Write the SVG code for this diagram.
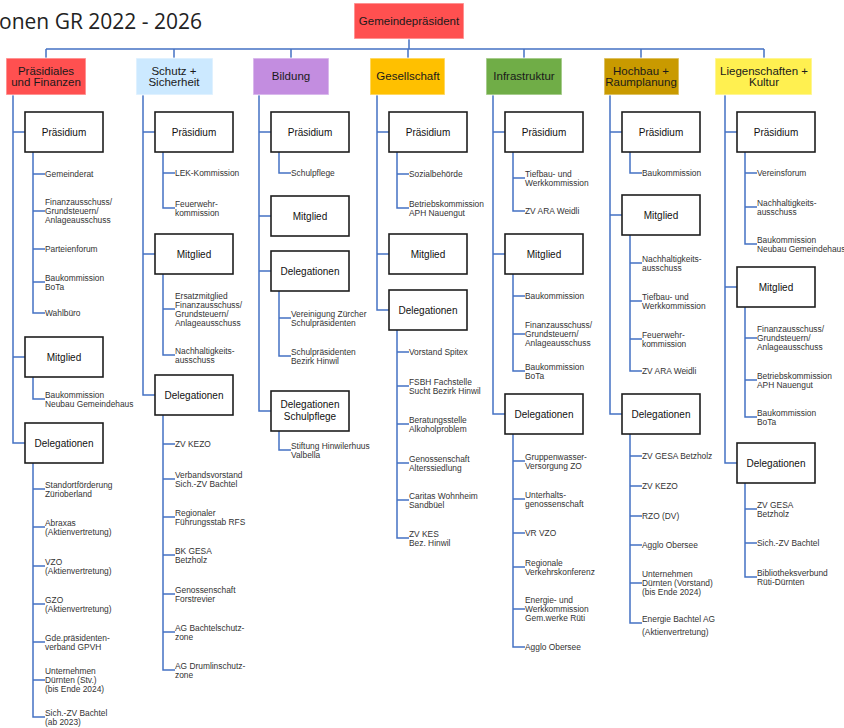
<svg xmlns="http://www.w3.org/2000/svg" width="844" height="728" viewBox="0 0 844 728">
<style>
.c{fill:none;stroke:#4472c4;stroke-width:1.5}
.l2{stroke:#ffffff;stroke-opacity:.5;stroke-width:1.5}
.sb{fill:#fff;stroke:#1e1e1e;stroke-width:1.6}
.bt{font-family:"Liberation Sans",Arial,sans-serif;font-size:10px;fill:#111;text-anchor:middle}
.lt{font-family:"Liberation Sans",Arial,sans-serif;font-size:11.5px;fill:#1a1a1a;text-anchor:middle}
.t{font-family:"Liberation Sans",Arial,sans-serif;font-size:8.4px;fill:#333}
</style>
<rect width="844" height="728" fill="#fff"/>
<text x="-1" y="29" font-family="'Open Sans',sans-serif" font-size="21" fill="#222">onen GR 2022 - 2026</text>

<g id="connectors">
<path class="c" d="M409 39V49M46 49H764M46 49V58M174 49V58M291 49V58M408 49V58M524 49V58M641 49V58M764 49V58"/>
<path class="c" d="M13 95V443H25M13 132H25M13 357H25"/>
<path class="c" d="M33 152V313H45M33 174H45M33 211H45M33 249H45M33 282H45"/>
<path class="c" d="M33 377V399H45"/>
<path class="c" d="M33 463V717H45M33 489H45M33 527H45M33 566H45M33 604H45M33 642H45M33 680H45"/>
<path class="c" d="M143 95V395H155M143 132H155M143 254H155"/>
<path class="c" d="M163 152V208H175M163 173H175"/>
<path class="c" d="M163 274V355H175M163 309H175"/>
<path class="c" d="M163 415V670H175M163 444H175M163 479H175M163 517H175M163 555H175M163 594H175M163 632H175"/>
<path class="c" d="M259 95V411H271M259 132H271M259 216H271M259 271H271"/>
<path class="c" d="M279 152V173H291"/>
<path class="c" d="M279 291V356H291M279 318H291"/>
<path class="c" d="M279 431V450H291"/>
<path class="c" d="M377 95V310H389M377 132H389M377 254H389"/>
<path class="c" d="M397 152V208H409M397 174H409"/>
<path class="c" d="M397 330V538H409M397 352H409M397 386H409M397 424H409M397 463H409M397 500H409"/>
<path class="c" d="M493 95V414H505M493 132H505M493 254H505"/>
<path class="c" d="M513 152V211H525M513 178H525"/>
<path class="c" d="M513 274V371H525M513 296H525M513 334H525"/>
<path class="c" d="M513 434V647H525M513 461H525M513 499H525M513 533H525M513 567H525M513 609H525"/>
<path class="c" d="M610 95V414H622M610 132H622M610 215H622"/>
<path class="c" d="M630 152V173H642"/>
<path class="c" d="M630 235V371H642M630 263H642M630 301H642M630 339H642"/>
<path class="c" d="M630 434V623H642M630 456H642M630 486H642M630 516H642M630 545H642M630 583H642"/>
<path class="c" d="M725 95V463H737M725 132H737M725 287H737"/>
<path class="c" d="M745 152V244H757M745 173H757M745 207H757"/>
<path class="c" d="M745 307V417H757M745 338H757M745 380H757"/>
<path class="c" d="M745 483V577H757M745 509H757M745 543H757"/>
</g>

<g id="gemeindepraesident">
<rect x="354" y="3" width="110" height="36" fill="#ff5050" class="l2"/>
<text class="lt" x="409" y="25" font-size="11">Gemeindepräsident</text>
</g>

<g id="praesidiales">
<rect x="6" y="58" width="80" height="37" fill="#ff5050" class="l2"/>
<text class="lt" x="46" y="75">Präsidiales</text><text class="lt" x="46" y="86">und Finanzen</text>
</g>
<g id="schutz">
<rect x="136" y="58" width="77" height="37" fill="#cce9ff" class="l2"/>
<text class="lt" x="174" y="75">Schutz +</text><text class="lt" x="174" y="86">Sicherheit</text>
</g>
<g id="bildung">
<rect x="253" y="58" width="76" height="37" fill="#c38de0" class="l2"/>
<text class="lt" x="291" y="80">Bildung</text>
</g>
<g id="gesellschaft">
<rect x="370" y="58" width="75" height="37" fill="#ffc000" class="l2"/>
<text class="lt" x="408" y="80">Gesellschaft</text>
</g>
<g id="infrastruktur">
<rect x="486" y="58" width="76" height="37" fill="#70ad47" class="l2"/>
<text class="lt" x="524" y="80">Infrastruktur</text>
</g>
<g id="hochbau">
<rect x="604" y="58" width="75" height="37" fill="#c99a00" class="l2"/>
<text class="lt" x="641" y="75">Hochbau +</text><text class="lt" x="641" y="86">Raumplanung</text>
</g>
<g id="liegenschaften">
<rect x="715" y="58" width="97" height="37" fill="#fff050" class="l2"/>
<text class="lt" x="764" y="75">Liegenschaften +</text><text class="lt" x="764" y="86">Kultur</text>
</g>

<g id="c1-praesidium"><rect class="sb" x="25" y="112" width="78" height="40"/><text class="bt" x="64" y="135.5">Präsidium</text></g>
<g id="c1-mitglied"><rect class="sb" x="25" y="337" width="78" height="40"/><text class="bt" x="64" y="360.5">Mitglied</text></g>
<g id="c1-delegationen"><rect class="sb" x="25" y="423" width="78" height="40"/><text class="bt" x="64" y="446.5">Delegationen</text></g>
<g id="c1-items">
<text class="t" x="45" y="177">Gemeinderat</text>
<text class="t" x="45" y="205">Finanzausschuss/<tspan x="45" dy="9">Grundsteuern/</tspan><tspan x="45" dy="9">Anlageausschuss</tspan></text>
<text class="t" x="45" y="252">Parteienforum</text>
<text class="t" x="45" y="280.5">Baukommission<tspan x="45" dy="9">BoTa</tspan></text>
<text class="t" x="45" y="316">Wahlbüro</text>
<text class="t" x="45" y="397.5">Baukommission<tspan x="45" dy="9">Neubau Gemeindehaus</tspan></text>
<text class="t" x="45" y="487.5">Standortförderung<tspan x="45" dy="9">Zürioberland</tspan></text>
<text class="t" x="45" y="525.5">Abraxas<tspan x="45" dy="9">(Aktienvertretung)</tspan></text>
<text class="t" x="45" y="564.5">VZO<tspan x="45" dy="9">(Aktienvertretung)</tspan></text>
<text class="t" x="45" y="602.5">GZO<tspan x="45" dy="9">(Aktienvertretung)</tspan></text>
<text class="t" x="45" y="640.5">Gde.präsidenten-<tspan x="45" dy="9">verband GPVH</tspan></text>
<text class="t" x="45" y="674">Unternehmen<tspan x="45" dy="9">Dürnten (Stv.)</tspan><tspan x="45" dy="9">(bis Ende 2024)</tspan></text>
<text class="t" x="45" y="715.5">Sich.-ZV Bachtel<tspan x="45" dy="9">(ab 2023)</tspan></text>
</g>

<g id="c2-praesidium"><rect class="sb" x="155" y="112" width="78" height="40"/><text class="bt" x="194" y="135.5">Präsidium</text></g>
<g id="c2-mitglied"><rect class="sb" x="155" y="234" width="78" height="40"/><text class="bt" x="194" y="257.5">Mitglied</text></g>
<g id="c2-delegationen"><rect class="sb" x="155" y="375" width="78" height="40"/><text class="bt" x="194" y="398.5">Delegationen</text></g>
<g id="c2-items">
<text class="t" x="175" y="176">LEK-Kommission</text>
<text class="t" x="175" y="206.5">Feuerwehr-<tspan x="175" dy="9">kommission</tspan></text>
<text class="t" x="175" y="298.5">Ersatzmitglied<tspan x="175" dy="9">Finanzausschuss/</tspan><tspan x="175" dy="9">Grundsteuern/</tspan><tspan x="175" dy="9">Anlageausschuss</tspan></text>
<text class="t" x="175" y="353.5">Nachhaltigkeits-<tspan x="175" dy="9">ausschuss</tspan></text>
<text class="t" x="175" y="447">ZV KEZO</text>
<text class="t" x="175" y="477.5">Verbandsvorstand<tspan x="175" dy="9">Sich.-ZV Bachtel</tspan></text>
<text class="t" x="175" y="515.5">Regionaler<tspan x="175" dy="9">Führungsstab RFS</tspan></text>
<text class="t" x="175" y="553.5">BK GESA<tspan x="175" dy="9">Betzholz</tspan></text>
<text class="t" x="175" y="592.5">Genossenschaft<tspan x="175" dy="9">Forstrevier</tspan></text>
<text class="t" x="175" y="630.5">AG Bachtelschutz-<tspan x="175" dy="9">zone</tspan></text>
<text class="t" x="175" y="668.5">AG Drumlinschutz-<tspan x="175" dy="9">zone</tspan></text>
</g>

<g id="c3-praesidium"><rect class="sb" x="271" y="112" width="78" height="40"/><text class="bt" x="310" y="135.5">Präsidium</text></g>
<g id="c3-mitglied"><rect class="sb" x="271" y="196" width="78" height="40"/><text class="bt" x="310" y="219.5">Mitglied</text></g>
<g id="c3-delegationen"><rect class="sb" x="271" y="251" width="78" height="40"/><text class="bt" x="310" y="274.5">Delegationen</text></g>
<g id="c3-delegationen-schulpflege"><rect class="sb" x="271" y="391" width="78" height="40"/><text class="bt" x="310" y="408">Delegationen</text><text class="bt" x="310" y="420">Schulpflege</text></g>
<g id="c3-items">
<text class="t" x="291" y="176">Schulpflege</text>
<text class="t" x="291" y="316.5">Vereinigung Zürcher<tspan x="291" dy="9">Schulpräsidenten</tspan></text>
<text class="t" x="291" y="354.5">Schulpräsidenten<tspan x="291" dy="9">Bezirk Hinwil</tspan></text>
<text class="t" x="291" y="448.5">Stiftung Hinwilerhuus<tspan x="291" dy="9">Valbella</tspan></text>
</g>

<g id="c4-praesidium"><rect class="sb" x="389" y="112" width="78" height="40"/><text class="bt" x="428" y="135.5">Präsidium</text></g>
<g id="c4-mitglied"><rect class="sb" x="389" y="234" width="78" height="40"/><text class="bt" x="428" y="257.5">Mitglied</text></g>
<g id="c4-delegationen"><rect class="sb" x="389" y="290" width="78" height="40"/><text class="bt" x="428" y="313.5">Delegationen</text></g>
<g id="c4-items">
<text class="t" x="409" y="177">Sozialbehörde</text>
<text class="t" x="409" y="206.5">Betriebskommission<tspan x="409" dy="9">APH Nauengut</tspan></text>
<text class="t" x="409" y="355">Vorstand Spitex</text>
<text class="t" x="409" y="384.5">FSBH Fachstelle<tspan x="409" dy="9">Sucht Bezirk Hinwil</tspan></text>
<text class="t" x="409" y="422.5">Beratungsstelle<tspan x="409" dy="9">Alkoholproblem</tspan></text>
<text class="t" x="409" y="461.5">Genossenschaft<tspan x="409" dy="9">Alterssiedlung</tspan></text>
<text class="t" x="409" y="498.5">Caritas Wohnheim<tspan x="409" dy="9">Sandbüel</tspan></text>
<text class="t" x="409" y="536.5">ZV KES<tspan x="409" dy="9">Bez. Hinwil</tspan></text>
</g>

<g id="c5-praesidium"><rect class="sb" x="505" y="112" width="78" height="40"/><text class="bt" x="544" y="135.5">Präsidium</text></g>
<g id="c5-mitglied"><rect class="sb" x="505" y="234" width="78" height="40"/><text class="bt" x="544" y="257.5">Mitglied</text></g>
<g id="c5-delegationen"><rect class="sb" x="505" y="394" width="78" height="40"/><text class="bt" x="544" y="417.5">Delegationen</text></g>
<g id="c5-items">
<text class="t" x="525" y="176.5">Tiefbau- und<tspan x="525" dy="9">Werkkommission</tspan></text>
<text class="t" x="525" y="214">ZV ARA Weidli</text>
<text class="t" x="525" y="299">Baukommission</text>
<text class="t" x="525" y="328">Finanzausschuss/<tspan x="525" dy="9">Grundsteuern/</tspan><tspan x="525" dy="9">Anlageausschuss</tspan></text>
<text class="t" x="525" y="369.5">Baukommission<tspan x="525" dy="9">BoTa</tspan></text>
<text class="t" x="525" y="459.5">Gruppenwasser-<tspan x="525" dy="9">Versorgung ZO</tspan></text>
<text class="t" x="525" y="497.5">Unterhalts-<tspan x="525" dy="9">genossenschaft</tspan></text>
<text class="t" x="525" y="536">VR VZO</text>
<text class="t" x="525" y="565.5">Regionale<tspan x="525" dy="9">Verkehrskonferenz</tspan></text>
<text class="t" x="525" y="603">Energie- und<tspan x="525" dy="9">Werkkommission</tspan><tspan x="525" dy="9">Gem.werke Rüti</tspan></text>
<text class="t" x="525" y="650">Agglo Obersee</text>
</g>

<g id="c6-praesidium"><rect class="sb" x="622" y="112" width="78" height="40"/><text class="bt" x="661" y="135.5">Präsidium</text></g>
<g id="c6-mitglied"><rect class="sb" x="622" y="195" width="78" height="40"/><text class="bt" x="661" y="218.5">Mitglied</text></g>
<g id="c6-delegationen"><rect class="sb" x="622" y="394" width="78" height="40"/><text class="bt" x="661" y="417.5">Delegationen</text></g>
<g id="c6-items">
<text class="t" x="642" y="176">Baukommission</text>
<text class="t" x="642" y="261.5">Nachhaltigkeits-<tspan x="642" dy="9">ausschuss</tspan></text>
<text class="t" x="642" y="299.5">Tiefbau- und<tspan x="642" dy="9">Werkkommission</tspan></text>
<text class="t" x="642" y="337.5">Feuerwehr-<tspan x="642" dy="9">kommission</tspan></text>
<text class="t" x="642" y="374">ZV ARA Weidli</text>
<text class="t" x="642" y="459">ZV GESA Betzholz</text>
<text class="t" x="642" y="489">ZV KEZO</text>
<text class="t" x="642" y="519">RZO (DV)</text>
<text class="t" x="642" y="548">Agglo Obersee</text>
<text class="t" x="642" y="577">Unternehmen<tspan x="642" dy="9">Dürnten (Vorstand)</tspan><tspan x="642" dy="9">(bis Ende 2024)</tspan></text>
<text class="t" x="642" y="622" font-size="8.7">Energie Bachtel AG</text>
<text class="t" x="642" y="635">(Aktienvertretung)</text>
</g>

<g id="c7-praesidium"><rect class="sb" x="737" y="112" width="78" height="40"/><text class="bt" x="776" y="135.5">Präsidium</text></g>
<g id="c7-mitglied"><rect class="sb" x="737" y="267" width="78" height="40"/><text class="bt" x="776" y="290.5">Mitglied</text></g>
<g id="c7-delegationen"><rect class="sb" x="737" y="443" width="78" height="40"/><text class="bt" x="776" y="466.5">Delegationen</text></g>
<g id="c7-items">
<text class="t" x="757" y="176">Vereinsforum</text>
<text class="t" x="757" y="205.5">Nachhaltigkeits-<tspan x="757" dy="9">ausschuss</tspan></text>
<text class="t" x="757" y="242.5">Baukommission<tspan x="757" dy="9">Neubau Gemeindehaus</tspan></text>
<text class="t" x="757" y="332">Finanzausschuss/<tspan x="757" dy="9">Grundsteuern/</tspan><tspan x="757" dy="9">Anlageausschuss</tspan></text>
<text class="t" x="757" y="378.5">Betriebskommission<tspan x="757" dy="9">APH Nauengut</tspan></text>
<text class="t" x="757" y="415.5">Baukommission<tspan x="757" dy="9">BoTa</tspan></text>
<text class="t" x="757" y="507.5">ZV GESA<tspan x="757" dy="9">Betzholz</tspan></text>
<text class="t" x="757" y="546">Sich.-ZV Bachtel</text>
<text class="t" x="757" y="575.5">Bibliotheksverbund<tspan x="757" dy="9">Rüti-Dürnten</tspan></text>
</g>
</svg>
